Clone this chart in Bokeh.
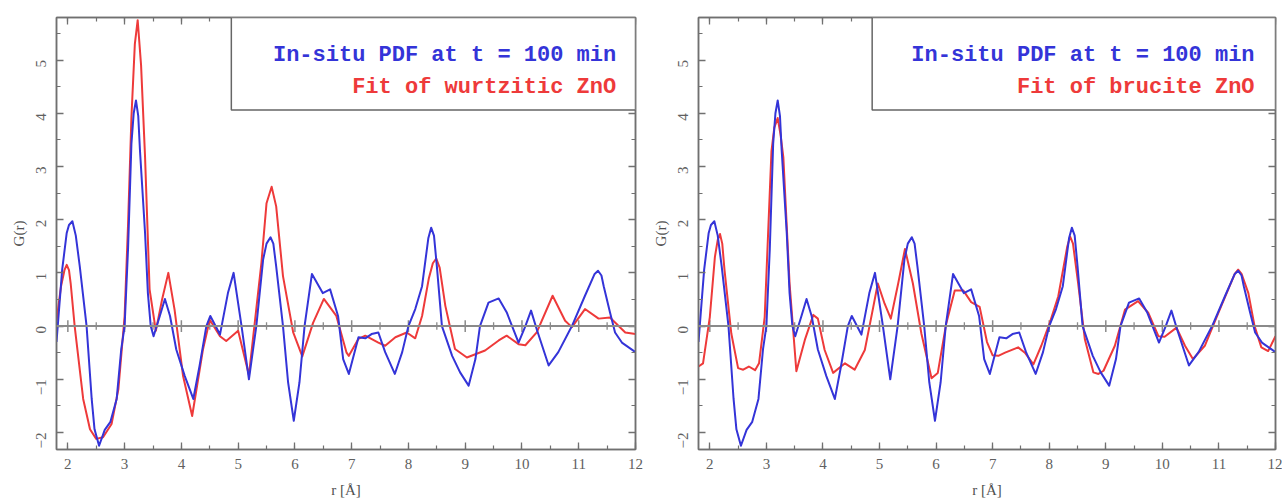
import math
from bokeh.plotting import figure
from bokeh.models import Range1d, LinearAxis, SingleIntervalTicker, BoxAnnotation, Label, Span
from bokeh.layouts import row
from bokeh.embed import file_html
from bokeh.resources import INLINE

# ---- data ----
r_insitu = [1.80, 1.90, 1.98, 2.02, 2.08, 2.14, 2.21, 2.33, 2.42, 2.47, 2.55, 2.65,
            2.75, 2.86, 2.94, 3.00, 3.06, 3.12, 3.16, 3.20, 3.24, 3.27, 3.36, 3.41,
            3.46, 3.51, 3.62, 3.71, 3.80, 3.91, 4.06, 4.21, 4.32, 4.44,
            4.51, 4.68, 4.82, 4.92, 5.06, 5.19, 5.32, 5.44, 5.50, 5.57, 5.62, 5.67,
            5.79, 5.88, 5.98, 6.08, 6.17, 6.30, 6.49, 6.62, 6.76, 6.85,
            6.95, 7.12, 7.24, 7.35, 7.47, 7.59, 7.76, 7.89, 8.00, 8.12,
            8.24, 8.35, 8.40, 8.45, 8.50, 8.59, 8.77, 8.91, 9.06, 9.18, 9.26, 9.41,
            9.59, 9.73, 9.94, 10.06, 10.16, 10.26, 10.47, 10.64, 10.88, 11.11,
            11.28, 11.34, 11.40, 11.44, 11.55, 11.64, 11.76, 12.00]
g_insitu = [-0.30, 1.06, 1.75, 1.90, 1.97, 1.70, 1.12, 0.00, -1.37, -1.94, -2.25, -1.95,
            -1.80, -1.37, -0.44, 0.00, 1.44, 3.43, 4.00, 4.24, 3.95, 3.31, 1.75, 0.62,
            0.00, -0.19, 0.19, 0.51, 0.19, -0.44, -0.94, -1.37, -0.75, 0.00,
            0.19, -0.16, 0.62, 1.00, 0.00, -1.00, 0.00, 1.25, 1.55, 1.67, 1.55, 1.12,
            0.00, -1.06, -1.78, -1.06, 0.00, 0.98, 0.62, 0.69, 0.19, -0.62,
            -0.90, -0.21, -0.23, -0.15, -0.12, -0.49, -0.90, -0.49, 0.00, 0.32,
            0.75, 1.65, 1.85, 1.70, 1.13, 0.00, -0.56, -0.87, -1.12, -0.62, 0.00, 0.44,
            0.52, 0.26, -0.31, 0.00, 0.29, -0.06, -0.74, -0.49, 0.00, 0.57,
            0.98, 1.04, 0.95, 0.75, 0.26, -0.12, -0.31, -0.49]

r_wurtzite = [1.80, 1.88, 1.94, 1.98, 2.02, 2.05, 2.12, 2.27, 2.39, 2.50, 2.62, 2.77,
              2.89, 3.00, 3.06, 3.12, 3.18, 3.23, 3.29, 3.36, 3.44, 3.55,
              3.66, 3.77, 3.88, 4.03, 4.19, 4.38, 4.50, 4.68, 4.79, 5.00,
              5.19, 5.41, 5.50, 5.59, 5.67, 5.79, 5.97, 6.13, 6.32, 6.51,
              6.73, 6.91, 6.95, 7.12, 7.24, 7.47, 7.59, 7.77, 7.97, 8.12,
              8.24, 8.36, 8.43, 8.49, 8.55, 8.65, 8.82, 9.03, 9.35, 9.59, 9.73, 9.94,
              10.06, 10.26, 10.54, 10.76, 10.88, 11.11, 11.35, 11.55, 11.82, 12.00]
g_wurtzite = [0.10, 0.75, 1.05, 1.15, 1.05, 0.80, 0.00, -1.37, -1.94, -2.12, -2.09, -1.84,
              -1.19, 0.19, 1.90, 3.93, 5.30, 5.75, 4.90, 3.18, 0.69, -0.09,
              0.50, 1.00, 0.31, -0.94, -1.69, -0.44, 0.12, -0.19, -0.28, -0.09,
              -0.92, 1.19, 2.31, 2.62, 2.25, 0.94, -0.12, -0.57, 0.06, 0.51,
              0.19, -0.50, -0.56, -0.24, -0.18, -0.31, -0.37, -0.21, -0.12, -0.23,
              0.19, 0.90, 1.18, 1.27, 1.10, 0.38, -0.43, -0.59, -0.46, -0.27, -0.18, -0.34,
              -0.36, -0.12, 0.57, 0.10, -0.02, 0.32, 0.14, 0.16, -0.12, -0.15]

r_brucite = [1.80, 1.88, 2.00, 2.09, 2.14, 2.18, 2.22, 2.26, 2.38, 2.50, 2.59, 2.69,
             2.80, 2.87, 2.97, 3.09, 3.14, 3.20, 3.25, 3.30, 3.41, 3.53,
             3.68, 3.83, 3.91, 4.03, 4.18, 4.39, 4.56, 4.74, 4.89, 4.97,
             5.09, 5.20, 5.33, 5.45, 5.59, 5.74, 5.92, 6.03, 6.18, 6.33,
             6.48, 6.62, 6.77, 6.90, 7.00, 7.10, 7.22, 7.45, 7.57, 7.72,
             7.86, 8.01, 8.16, 8.32, 8.37, 8.42, 8.51, 8.63, 8.78, 8.87, 8.96, 9.16,
             9.34, 9.57, 9.75, 9.93, 10.04, 10.25, 10.40, 10.54, 10.75, 10.99,
             11.28, 11.34, 11.40, 11.52, 11.63, 11.75, 11.87, 12.00]
g_brucite = [-0.76, -0.70, 0.17, 1.30, 1.62, 1.73, 1.55, 1.05, -0.14, -0.79, -0.82, -0.76,
             -0.83, -0.70, 0.17, 3.29, 3.73, 3.91, 3.60, 3.17, 0.80, -0.85,
             -0.26, 0.21, 0.14, -0.45, -0.88, -0.70, -0.82, -0.45, 0.36, 0.80,
             0.42, 0.14, 0.80, 1.45, 0.80, -0.14, -0.98, -0.88, 0.05, 0.67,
             0.67, 0.45, 0.36, -0.30, -0.55, -0.56, -0.50, -0.40, -0.50, -0.72,
             -0.37, 0.06, 0.56, 1.50, 1.68, 1.55, 0.81, -0.25, -0.87, -0.90, -0.84, -0.37,
             0.31, 0.47, 0.25, -0.19, -0.20, -0.03, -0.37, -0.62, -0.37, 0.25,
             0.98, 1.06, 0.98, 0.62, 0.00, -0.40, -0.47, -0.19]

zero_major_ticks = [2, 3, 4, 5, 6, 7, 8, 9, 10, 11, 12]
zero_minor_ticks = [2.5, 3.5, 4.5, 5.5, 6.5, 7.5, 8.5, 9.5, 10.5, 11.5]

legend_data = "In-situ PDF at t = 100 min"
legend_wurtzite = "Fit of wurtzitic ZnO"
legend_brucite = "Fit of brucite ZnO"

BLUE = "#3434d8"
RED = "#ee3a3a"
FRAME = "#707070"
TXT = "#606060"


def style_axis(ax, labels=True):
    ax.ticker = SingleIntervalTicker(interval=1, num_minor_ticks=2)
    ax.axis_line_color = FRAME
    ax.axis_line_width = 1.5
    ax.major_tick_line_color = FRAME
    ax.minor_tick_line_color = FRAME
    ax.major_tick_line_width = 1.3
    ax.minor_tick_line_width = 1.2
    ax.major_tick_in = 7
    ax.major_tick_out = 0
    ax.minor_tick_in = 4
    ax.minor_tick_out = 0
    if labels:
        ax.major_label_text_font = "Liberation Serif"
        ax.major_label_text_font_size = "15px"
        ax.major_label_text_color = TXT
        ax.axis_label_text_font = "Liberation Serif"
        ax.axis_label_text_font_size = "15px"
        ax.axis_label_text_font_style = "normal"
        ax.axis_label_text_color = "#505050"
    else:
        ax.major_label_text_font_size = "0px"
        ax.major_label_standoff = 0


def make(width, bl, br, fit_r, fit_g, fit_text, box_left, text_x):
    p = figure(width=width, height=500,
               x_range=Range1d(1.8, 12.0), y_range=Range1d(-2.32, 5.8),
               output_backend="svg", toolbar_location=None,
               min_border_left=bl, min_border_right=br,
               min_border_top=17, min_border_bottom=50,
               x_axis_label="r [Å]", y_axis_label="G(r)")
    p.grid.visible = False
    p.outline_line_color = FRAME
    p.outline_line_width = 1.5
    p.background_fill_color = "white"
    p.border_fill_color = "white"

    style_axis(p.xaxis[0])
    style_axis(p.yaxis[0])
    p.xaxis[0].major_label_standoff = 9
    p.xaxis[0].axis_label_standoff = 10
    p.yaxis[0].major_label_orientation = math.pi / 2
    p.yaxis[0].major_label_standoff = 15
    p.yaxis[0].axis_label_standoff = 2

    top = LinearAxis()
    style_axis(top, labels=False)
    p.add_layout(top, "above")
    right = LinearAxis()
    style_axis(right, labels=False)
    p.add_layout(right, "right")

    p.add_layout(Span(location=0, dimension="width", line_color="#8a8a8a", line_width=2))
    p.segment(x0=zero_major_ticks, x1=zero_major_ticks,
              y0=[-0.11] * len(zero_major_ticks), y1=[0.11] * len(zero_major_ticks),
              line_color="#8a8a8a", line_width=1.5)
    p.segment(x0=zero_minor_ticks, x1=zero_minor_ticks,
              y0=[-0.07] * len(zero_minor_ticks), y1=[0.07] * len(zero_minor_ticks),
              line_color="#8a8a8a", line_width=1.3)

    p.line(fit_r, fit_g, line_color=RED, line_width=2, line_join="round")
    p.line(r_insitu, g_insitu, line_color=BLUE, line_width=2, line_join="round")

    p.add_layout(BoxAnnotation(left=box_left, right=12.0, bottom=4.06, top=5.8,
                               fill_color="white", fill_alpha=1.0,
                               line_color="#666666", line_width=1.5, line_alpha=1.0))
    p.add_layout(Label(x=text_x, y=5.09, text=legend_data, text_align="right",
                       text_baseline="middle", text_font="Liberation Mono",
                       text_font_size="22px", text_font_style="bold", text_color=BLUE))
    p.add_layout(Label(x=text_x, y=4.48, text=fit_text, text_align="right",
                       text_baseline="middle", text_font="Liberation Mono",
                       text_font_size="22px", text_font_style="bold", text_color=RED))
    return p


p1 = make(648, 56, 13, r_wurtzite, g_wurtzite, legend_wurtzite, 4.88, 11.66)
p2 = make(634, 50, 7, r_brucite, g_brucite, legend_brucite, 4.87, 11.63)

layout = row(p1, p2)
open("out.html", "w").write(file_html(layout, INLINE))
